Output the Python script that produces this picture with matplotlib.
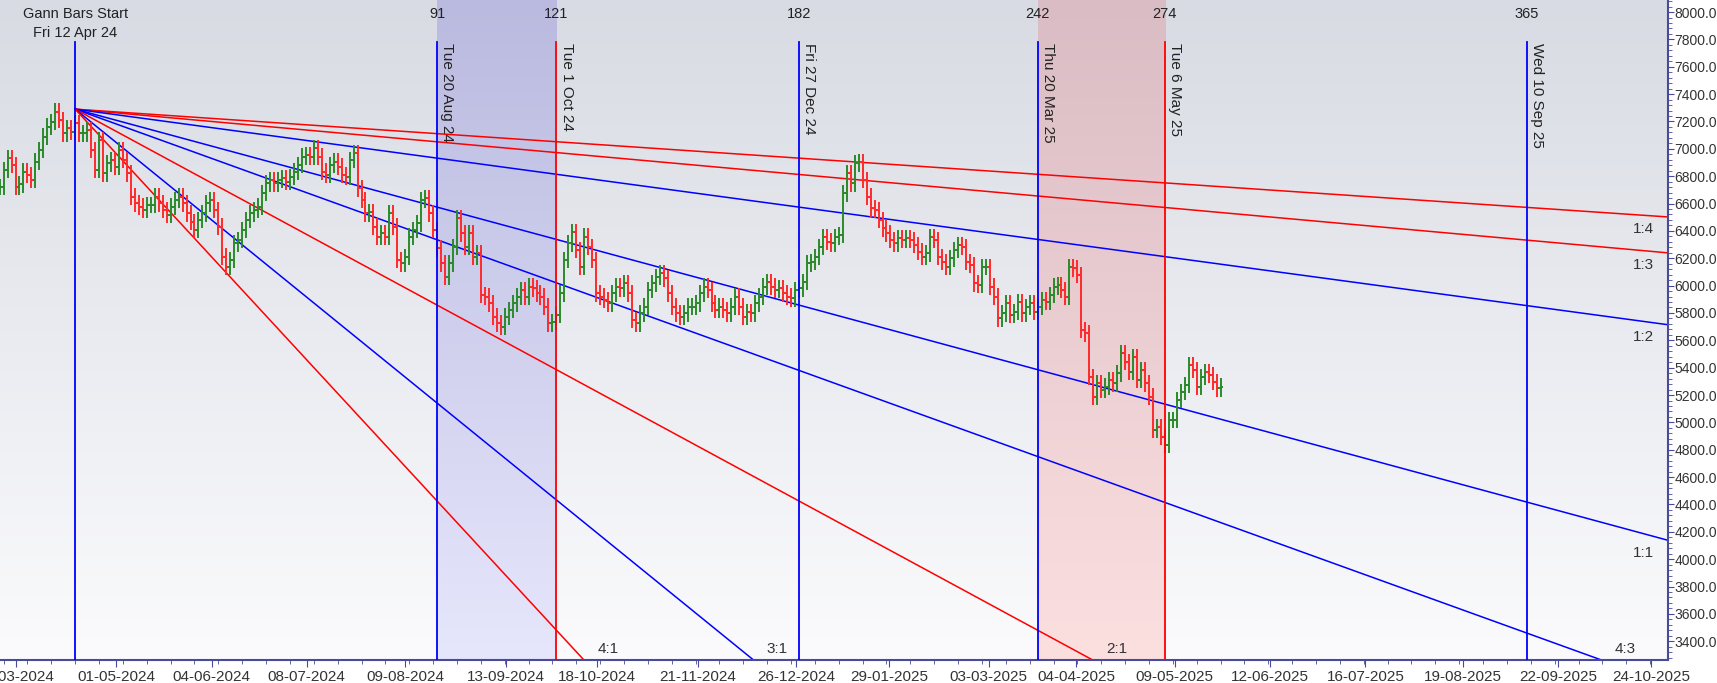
import matplotlib
matplotlib.use("Agg")
import matplotlib.pyplot as plt
import numpy as np
from matplotlib.transforms import blended_transform_factory
from matplotlib.collections import LineCollection

plt.rcParams["font.family"] = ["Liberation Sans", "DejaVu Sans"]

# ---------------- data ----------------
first_bar = -19
closes = [
    6723, 6845, 6930, 6880, 6723, 6740, 6833, 6810, 6772, 6906,
    6991, 7089, 7162, 7198, 7272, 7210, 7113, 7150, 7125, 7186,
    7113,  # bar 0
    7113, 7137, 6991, 6845, 7064, 6821, 6894, 6918, 6870, 6991,
    6918, 6821, 6650, 6601, 6577, 6553, 6589, 6589, 6650, 6601,
    6553, 6516, 6577, 6626, 6650, 6601, 6528, 6467, 6406, 6480,
    6528, 6601, 6626, 6553, 6431, 6212, 6138, 6187, 6309, 6333,
    6406, 6480, 6528, 6553, 6577, 6675, 6748, 6772, 6748, 6772,
    6784, 6760, 6796, 6833, 6882, 6943, 6955, 6943, 7004, 6943,
    6833, 6809, 6882, 6906, 6870, 6809, 6796, 6918, 6967, 6711,
    6626, 6528, 6540, 6431, 6358, 6382, 6358, 6528, 6431, 6187,
    6163, 6211, 6358, 6406, 6455, 6626, 6638, 6528, 6406, 6272,
    6163, 6065, 6163, 6284, 6492, 6382, 6284, 6382, 6211, 6236,
    5931, 5919, 5870, 5773, 5724, 5700, 5773, 5821, 5870, 5919,
    5968, 5919, 5992, 5980, 5943, 5919, 5846, 5724, 5736, 5785,
    5943, 6187, 6309, 6394, 6260, 6138, 6358, 6284, 6187, 5943,
    5919, 5895, 5870, 5943, 5992, 5980, 6016, 5943, 5748, 5724,
    5797, 5846, 5968, 6016, 6065, 6089, 6053, 5943, 5846, 5797,
    5773, 5797, 5846, 5846, 5870, 5943, 5992, 5968, 5870, 5821,
    5846, 5821, 5797, 5846, 5919, 5846, 5773, 5809, 5797, 5870,
    5919, 5992, 6028, 5992, 5967, 5979, 5943, 5919, 5906, 5967,
    5979, 6028, 6162, 6174, 6211, 6284, 6357, 6321, 6309, 6357,
    6369, 6674, 6820, 6747, 6893, 6905, 6771, 6650, 6564, 6552,
    6479, 6418, 6382, 6333, 6308, 6345, 6333, 6345, 6333, 6296,
    6248, 6211, 6235, 6357, 6333, 6211, 6174, 6138, 6199, 6260,
    6296, 6284, 6174, 6150, 6016, 6004, 6138, 6138, 5992, 5919,
    5760, 5797, 5870, 5784, 5809, 5882, 5797, 5845, 5870, 5809,
    5845, 5894, 5882, 5931, 5992, 6004, 5967, 5919, 6137, 6126,
    6077, 5675, 5650, 5334, 5187, 5285, 5236, 5261, 5309, 5285,
    5358, 5504, 5443, 5370, 5480, 5309, 5382, 5285, 5188, 4944,
    4968, 4895, 4834, 5017, 5017, 5163, 5224, 5273, 5419, 5382,
    5261, 5334, 5370, 5346, 5297, 5249, 5261,
]
gann_origin_bar = 0
gann_origin_price = 7290
gann_unit = 7.87  # price per bar for 1:1
gann_names = ["1:4", "1:3", "1:2", "1:1", "4:3", "2:1", "3:1", "4:1"]
gann_mult = [0.25, 1/3, 0.5, 1.0, 4/3, 2.0, 3.0, 4.0]
gann_colors = ["red", "red", "blue", "blue", "blue", "red", "blue", "red"]

cycle_bars = [91, 121, 182, 242, 274, 365]
cycle_labels = ["Tue 20 Aug 24", "Tue 1 Oct 24", "Fri 27 Dec 24",
                "Thu 20 Mar 25", "Tue 6 May 25", "Wed 10 Sep 25"]
cycle_colors = ["blue", "red", "blue", "blue", "red", "blue"]

tick_pos = [-15.0, 10.3, 34.3, 58.2, 83.0, 108.3, 131.2, 156.5, 181.3,
            204.7, 229.7, 251.7, 276.5, 300.4, 324.4, 348.9, 372.9, 396.3]
tick_labels = ["27-03-2024", "01-05-2024", "04-06-2024", "08-07-2024",
               "09-08-2024", "13-09-2024", "18-10-2024", "21-11-2024",
               "26-12-2024", "29-01-2025", "03-03-2025", "04-04-2025",
               "09-05-2025", "12-06-2025", "16-07-2025", "19-08-2025",
               "22-09-2025", "24-10-2025"]

# ---------------- figure ----------------
W, H = 1717, 683
fig = plt.figure(figsize=(W/100, H/100), dpi=100)
fig.patch.set_facecolor("#ffffff")
ax = fig.add_axes([0, 23/H, 1668/W, 1 - 23/H])
XMIN, XMAX = -18.9, 400.5
YMIN, YMAX = 3263, 8088

grad = np.linspace(0, 1, 256)[:, None]
top = np.array([216, 219, 227]) / 255
bot = np.array([251, 251, 253]) / 255
bg = top[None, None, :] * (1 - grad[..., None]) + bot[None, None, :] * grad[..., None]
ax.imshow(bg, extent=[0, 1, 0, 1], transform=ax.transAxes, aspect="auto", zorder=0)

def shade(x0, x1, ctop, cbot):
    c0 = np.array(ctop) / 255; c1 = np.array(cbot) / 255
    img = c0[None, None, :] * (1 - grad[..., None]) + c1[None, None, :] * grad[..., None]
    ax.imshow(img, extent=[x0, x1, YMIN, YMAX], aspect="auto", zorder=0.5)

shade(cycle_bars[0], cycle_bars[1], (186, 186, 224), (230, 230, 252))
shade(cycle_bars[3], cycle_bars[4], (218, 188, 196), (252, 224, 224))
ax.set_xlim(XMIN, XMAX); ax.set_ylim(YMIN, YMAX)

# OHLC bars
segs, cols = [], []
wick = 60
prev = closes[0]
for i, c in enumerate(closes):
    b = first_bar + i
    o = prev
    hi = max(o, c) + wick
    lo = min(o, c) - wick
    col = "#2a8a2a" if c >= o else "#ff2a2a"
    segs += [[(b, lo), (b, hi)], [(b - 0.7, o), (b, o)], [(b, c), (b + 0.7, c)]]
    cols += [col] * 3
    prev = c
ax.add_collection(LineCollection(segs, colors=cols, linewidths=1.4, zorder=3))

# Gann lines
xs = np.array([gann_origin_bar, XMAX])
for m, col in zip(gann_mult, gann_colors):
    ys = gann_origin_price - gann_unit * m * (xs - gann_origin_bar)
    ax.plot(xs, ys, color=col, lw=1.1, zorder=2)

for name, m in zip(gann_names, gann_mult):
    yend = gann_origin_price - gann_unit * m * (XMAX - gann_origin_bar)
    if yend > YMIN:
        ax.text(XMAX - 3.5, yend - 40, name, ha="right", va="top",
                fontsize=11, color="#333333", zorder=5)
    else:
        xb = gann_origin_bar + (gann_origin_price - YMIN) / (gann_unit * m)
        ax.text(xb + 6, YMIN + 30, name, ha="center", va="bottom",
                fontsize=11, color="#333333", zorder=5)

# vertical cycle lines
trA = blended_transform_factory(ax.transData, ax.transAxes)
ytop_line = 1 - 42 / (H - 23)
ax.plot([gann_origin_bar, gann_origin_bar], [0, ytop_line], color="blue", lw=1.3,
        transform=trA, zorder=4)
ax.text(gann_origin_bar, 1 - 14 / (H - 23), "Gann Bars Start", ha="center", va="center",
        fontsize=10.5, color="#222222", transform=trA)
ax.text(gann_origin_bar, 1 - 33 / (H - 23), "Fri 12 Apr 24", ha="center", va="center",
        fontsize=10.5, color="#222222", transform=trA)
for b, lab, col in zip(cycle_bars, cycle_labels, cycle_colors):
    ax.plot([b, b], [0, ytop_line], color=col, lw=1.3, transform=trA, zorder=4)
    ax.text(b, 1 - 14 / (H - 23), str(b), ha="center", va="center",
            fontsize=10.5, color="#222222", transform=trA)
    ax.text(b + 0.8, ytop_line - 0.002, lab, rotation=-90, ha="left", va="top",
            fontsize=11, color="#222222", transform=trA, zorder=5)

for s in ["top", "left"]:
    ax.spines[s].set_visible(False)
ax.spines["right"].set_color("#4a4a9a")
ax.spines["bottom"].set_color("#4a4a9a")
ax.spines["right"].set_linewidth(1.5)
ax.spines["bottom"].set_linewidth(1.5)
ax.yaxis.tick_right()
yt = np.arange(3400, 8001, 200)
ax.set_yticks(yt)
ax.set_yticklabels([f"{v:.1f}" for v in yt])
ax.set_yticks(np.arange(3280, 8081, 40), minor=True)
ax.set_xticks(tick_pos)
ax.set_xticklabels(tick_labels)
ax.set_xticks(np.arange(-18, 401, 6), minor=True)
ax.tick_params(axis="y", which="major", length=4, color="#4a4a9a", labelsize=10,
               labelcolor="#333333", pad=0.5)
ax.tick_params(axis="y", which="minor", length=3, color="#4a4a9a")
ax.tick_params(axis="x", which="major", length=5, color="#4a4a9a", labelsize=11,
               labelcolor="#333333", pad=2)
ax.tick_params(axis="x", which="minor", length=3, color="#4a4a9a")

fig.savefig("out.png", dpi=100)
